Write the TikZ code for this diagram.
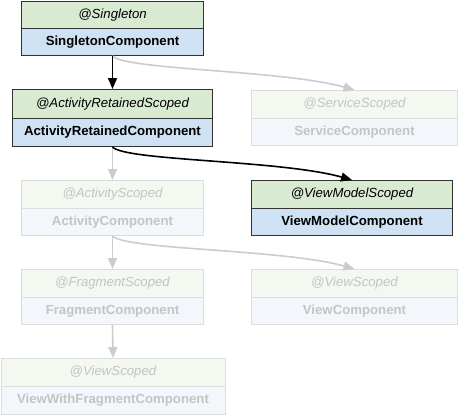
\documentclass[tikz,border=0pt]{standalone}
\usepackage{fontspec}
\setmainfont{Liberation Sans}
\usetikzlibrary{arrows.meta}
\definecolor{hgreen}{HTML}{D9EAD3}
\definecolor{bblue}{HTML}{CFE2F3}
\definecolor{fgreen}{HTML}{F3F8F1}
\definecolor{fblue}{HTML}{F3F7FC}
\definecolor{dbdr}{HTML}{333333}
\definecolor{fbdr}{HTML}{DDDDDD}
\definecolor{ftext}{HTML}{C4C4C4}
\definecolor{farrow}{HTML}{CCCCCC}
\tikzset{
  boxbase/.style={draw, inner sep=0pt, anchor=north west, line width=1pt, font=\fontsize{13.2}{15}\selectfont},
  hdr/.style={boxbase, fill=hgreen, draw=dbdr, font=\fontsize{13.2}{15}\selectfont\itshape, text=black},
  bdy/.style={boxbase, fill=bblue, draw=dbdr, font=\fontsize{13.2}{15}\selectfont\bfseries, text=black},
  fhdr/.style={boxbase, fill=fgreen, draw=fbdr, font=\fontsize{13.2}{15}\selectfont\itshape, text=ftext},
  fbdy/.style={boxbase, fill=fblue, draw=fbdr, font=\fontsize{13.2}{15}\selectfont\bfseries, text=ftext},
  darrow/.style={draw=black, line width=1.6pt, -{Triangle[length=11pt,width=9pt]}},
  farr/.style={draw=farrow, line width=1.6pt, -{Triangle[length=11pt,width=9pt]}},
}
\begin{document}
\begin{tikzpicture}[x=1pt,y=-1pt]
\useasboundingbox (0,0) rectangle (458,415);
% Singleton
\node[hdr, minimum width=182pt, minimum height=28pt] (sh) at (21,0.5) {@Singleton};
\node[bdy, minimum width=182pt, minimum height=27pt] (sb) at (21,28) {SingletonComponent};
% ActivityRetained
\node[hdr, minimum width=200pt, minimum height=29pt] (arh) at (12,89) {@ActivityRetainedScoped};
\node[bdy, minimum width=200pt, minimum height=28pt] (arb) at (12,118) {ActivityRetainedComponent};
% Service
\node[fhdr, minimum width=206pt, minimum height=28pt] (svh) at (251,90) {@ServiceScoped};
\node[fbdy, minimum width=206pt, minimum height=27pt] (svb) at (251,118) {ServiceComponent};
% ViewModel
\node[hdr, minimum width=201pt, minimum height=28pt] (vmh) at (251,180) {@ViewModelScoped};
\node[bdy, minimum width=201pt, minimum height=27pt] (vmb) at (251,208) {ViewModelComponent};
% Activity
\node[fhdr, minimum width=182pt, minimum height=28pt] (ah) at (21,180) {@ActivityScoped};
\node[fbdy, minimum width=182pt, minimum height=27pt] (ab) at (21,208) {ActivityComponent};
% Fragment
\node[fhdr, minimum width=182pt, minimum height=28pt] (fh) at (21,269) {@FragmentScoped};
\node[fbdy, minimum width=182pt, minimum height=27pt] (fb) at (21,297) {FragmentComponent};
% View
\node[fhdr, minimum width=206pt, minimum height=28pt] (vh) at (251,269) {@ViewScoped};
\node[fbdy, minimum width=206pt, minimum height=27pt] (vb) at (251,297) {ViewComponent};
% ViewWithFragment
\node[fhdr, minimum width=224pt, minimum height=28pt] (wh) at (0.5,358) {@ViewScoped};
\node[fbdy, minimum width=224pt, minimum height=28pt] (wb) at (0.5,386) {ViewWithFragmentComponent};
% faded connectors
\draw[farr] (sb.south) .. controls ++(13,14) and ([xshift=-71pt,yshift=20pt]svh.north) .. (svh.north);
\draw[farr] (arb.south) -- (ah.north);
\draw[farr] (ab.south) -- (fh.north);
\draw[farr] (ab.south) .. controls ++(13,14) and ([xshift=-71pt,yshift=20pt]vh.north) .. (vh.north);
\draw[farr] (fb.south) -- (wh.north);
% dark connectors
\draw[darrow] (sb.south) -- (arh.north);
\draw[darrow] (arb.south) .. controls ++(13,14) and ([xshift=-71pt,yshift=20pt]vmh.north) .. (vmh.north);
\end{tikzpicture}
\end{document}
